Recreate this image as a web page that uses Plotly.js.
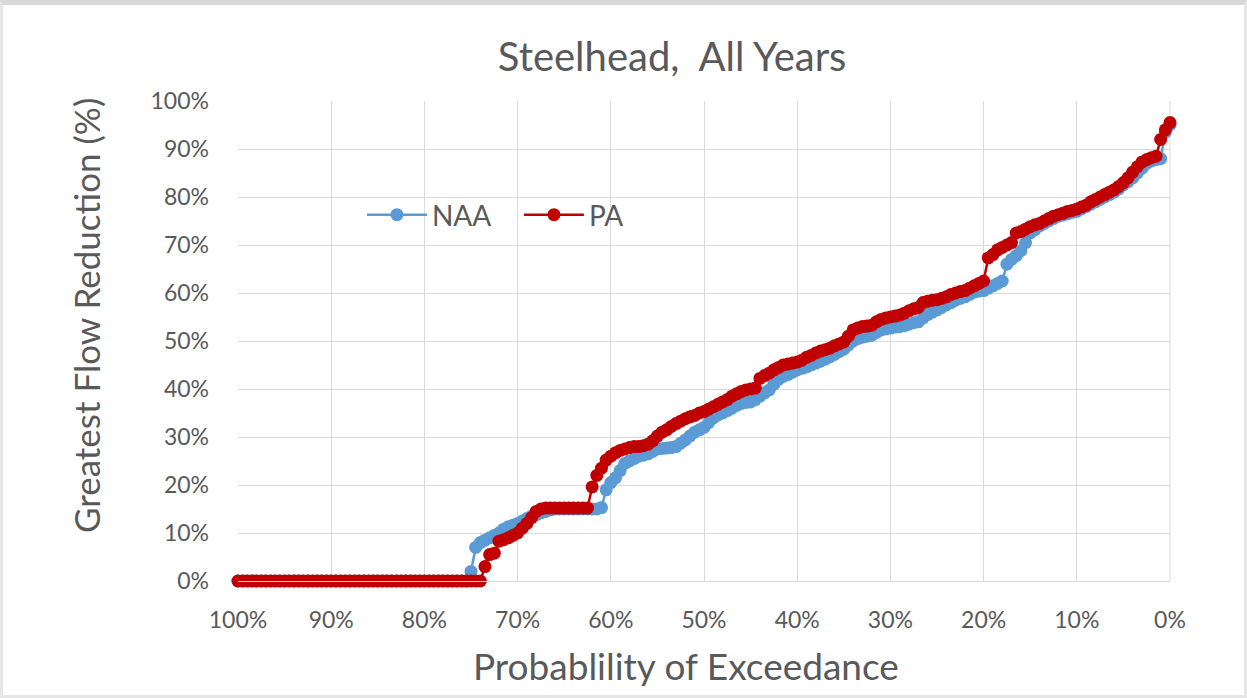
<!DOCTYPE html>
<html>
<head>
<meta charset="utf-8">
<script src="https://cdn.plot.ly/plotly-3.0.1.min.js"></script>
<style>
  html, body { margin: 0; padding: 0; background: #ffffff; }
  #frame { position: absolute; left: 0; top: 0; width: 1247px; height: 698px; box-sizing: border-box;
           border-top: 5px solid #d9d9d9; border-left: 3px solid #e6e6e6; border-right: 3px solid #e6e6e6; border-bottom: 3px solid #e6e6e6; }
  #chart { position: absolute; left: 0; top: 0; width: 1247px; height: 698px; }
</style>
</head>
<body>
<div id="frame"></div>
<div id="chart"></div>
<script>
// Probability of exceedance (%)
const exceedance = [
  100,99.5,99,98.5,98,97.5,97,96.5,96,95.5,
  95,94.5,94,93.5,93,92.5,92,91.5,91,90.5,
  90,89.5,89,88.5,88,87.5,87,86.5,86,85.5,
  85,84.5,84,83.5,83,82.5,82,81.5,81,80.5,
  80,79.5,79,78.5,78,77.5,77,76.5,76,75.5,
  75,74.5,74,73.5,73,72.5,72,71.5,71,70.5,
  70,69.5,69,68.5,68,67.5,67,66.5,66,65.5,
  65,64.5,64,63.5,63,62.5,62,61.5,61,60.5,
  60,59.5,59,58.5,58,57.5,57,56.5,56,55.5,
  55,54.5,54,53.5,53,52.5,52,51.5,51,50.5,
  50,49.5,49,48.5,48,47.5,47,46.5,46,45.5,
  45,44.5,44,43.5,43,42.5,42,41.5,41,40.5,
  40,39.5,39,38.5,38,37.5,37,36.5,36,35.5,
  35,34.5,34,33.5,33,32.5,32,31.5,31,30.5,
  30,29.5,29,28.5,28,27.5,27,26.5,26,25.5,
  25,24.5,24,23.5,23,22.5,22,21.5,21,20.5,
  20,19.5,19,18.5,18,17.5,17,16.5,16,15.5,
  15,14.5,14,13.5,13,12.5,12,11.5,11,10.5,
  10,9.5,9,8.5,8,7.5,7,6.5,6,5.5,
  5,4.5,4,3.5,3,2.5,2,1.5,1,0.5,
  0];

// Greatest flow reduction (%), NAA
const naa = [
  0,0,0,0,0,0,0,0,0,0,
  0,0,0,0,0,0,0,0,0,0,
  0,0,0,0,0,0,0,0,0,0,
  0,0,0,0,0,0,0,0,0,0,
  0,0,0,0,0,0,0,0,0,0,
  2,7,8,8.5,9,9.5,10,10.8,11.3,11.6,
  12,12.5,13,13.5,13.8,14.2,14.5,14.8,15,15,
  15,15,15,15,15,15,15,15,15.3,19,
  20.5,21.5,23,24.5,25,25.5,26,26.2,26.5,27,
  27.5,27.6,27.7,27.8,28,28.7,29.4,30.2,31,31.5,
  32,33,34,34.6,35,35.5,36,36.6,37,37.2,
  37.3,37.8,38.5,39.2,39.8,41,42,42.6,43,43.5,
  44,44.3,44.6,45,45.4,45.8,46.2,46.7,47.2,47.8,
  48.3,49.2,50,50.5,50.8,51,51.2,51.8,52.3,52.5,
  52.7,52.9,53,53.2,53.5,53.8,54,54.8,55.5,56,
  56.5,57,57.5,58,58.5,58.9,59.2,59.7,60.2,60.4,
  60.5,61,61.5,62,62.5,66,67,67.8,68.8,70.5,
  72.5,73.2,74,74.5,75,75.5,76,76.2,76.5,76.8,
  77,77.5,78,78.5,79,79.5,80,80.5,81,81.7,
  82.5,83.2,84,85,86,87,87.5,87.8,88,93.5,
  95];

// Greatest flow reduction (%), PA
const pa = [
  0,0,0,0,0,0,0,0,0,0,
  0,0,0,0,0,0,0,0,0,0,
  0,0,0,0,0,0,0,0,0,0,
  0,0,0,0,0,0,0,0,0,0,
  0,0,0,0,0,0,0,0,0,0,
  0,0,0,3,5.5,5.8,8.3,8.6,9,9.5,
  10,11,12,13.2,14.5,15,15.2,15.2,15.2,15.2,
  15.2,15.2,15.2,15.2,15.2,15.2,19.6,22,23.5,25.2,
  26,26.7,27.2,27.5,27.8,28,28,28.2,28.5,29.2,
  30.2,31,31.5,32.2,32.8,33.3,33.8,34.2,34.5,35,
  35.3,35.8,36.3,36.8,37.3,37.8,38.5,39,39.5,39.8,
  40,40.2,42.2,42.8,43.3,44,44.5,45,45.2,45.4,
  45.6,46,46.6,47,47.5,47.9,48.2,48.5,49,49.4,
  49.8,51,52.3,52.7,53,53.1,53.3,54,54.5,54.8,
  55,55.2,55.4,55.8,56.3,56.7,57,58,58.3,58.5,
  58.6,58.9,59.2,59.7,60,60.3,60.5,61,61.5,62,
  62.5,67.3,68,69,69.5,70,70.5,72.5,72.8,73.3,
  73.8,74.2,74.5,75,75.5,76,76.3,76.6,77,77.2,
  77.5,77.9,78.3,79,79.5,80,80.5,81,81.5,82.2,
  83,84,85.2,86.3,87.3,87.8,88.2,88.5,92,94,
  95.5];

const tickVals = [0,10,20,30,40,50,60,70,80,90,100];
const tickText = ['0%','10%','20%','30%','40%','50%','60%','70%','80%','90%','100%'];

const FONT = 'Lato, "Open Sans", sans-serif';
const GREY = '#595959';

const traces = [
  { x: exceedance, y: naa, name: 'NAA', type: 'scatter', mode: 'lines+markers', cliponaxis: false,
    line: { color: '#5B9BD5', width: 2.5 }, marker: { color: '#5B9BD5', size: 13 } },
  { x: exceedance, y: pa, name: 'PA', type: 'scatter', mode: 'lines+markers', cliponaxis: false,
    line: { color: '#C00000', width: 2.5 }, marker: { color: '#C00000', size: 13 } }
];

const layout = {
  width: 1247, height: 698,
  paper_bgcolor: 'rgba(0,0,0,0)', plot_bgcolor: '#ffffff',
  margin: { l: 238, r: 77, t: 101, b: 117 },
  font: { family: FONT, color: GREY },
  title: { text: 'Steelhead,  All Years', x: 0.539, xanchor: 'center', y: 0.918, yanchor: 'middle',
           font: { family: FONT, size: 40, color: GREY } },
  xaxis: {
    range: [100, 0], tickvals: tickVals, ticktext: tickText,
    showgrid: true, gridcolor: '#d9d9d9', gridwidth: 1,
    zeroline: false, showline: true, linecolor: '#d9d9d9', linewidth: 1,
    ticks: '', ticklabelstandoff: 18,
    tickfont: { family: FONT, size: 23, color: GREY }
  },
  yaxis: {
    range: [0, 100], tickvals: tickVals, ticktext: tickText,
    showgrid: true, gridcolor: '#d9d9d9', gridwidth: 1,
    zeroline: false, showline: false,
    ticks: '', ticklabelstandoff: 28,
    tickfont: { family: FONT, size: 23, color: GREY }
  },
  annotations: [
    { text: 'Probablility of Exceedance', xref: 'paper', yref: 'paper', x: 0.4807, y: -0.175,
      xanchor: 'center', yanchor: 'middle', showarrow: false, font: { family: FONT, size: 37, color: GREY } },
    { text: 'Greatest Flow Reduction (%)', xref: 'paper', yref: 'paper', x: -0.163, y: 0.552, textangle: -90,
      xanchor: 'center', yanchor: 'middle', showarrow: false, font: { family: FONT, size: 35, color: GREY } }
  ],
  shapes: [
    { type: 'line', xref: 'paper', yref: 'paper', x0: 1, x1: 1, y0: 0, y1: 1, line: { color: '#d9d9d9', width: 1 }, layer: 'below' }
  ],
  showlegend: true,
  legend: { orientation: 'h', x: 0.133, xanchor: 'left', y: 0.7625, yanchor: 'middle',
            bgcolor: 'rgba(255,255,255,0)', itemwidth: 60, entrywidth: 82, tracegroupgap: 0,
            font: { family: FONT, size: 28, color: GREY } }
};

Plotly.newPlot('chart', traces, layout, { displayModeBar: false, staticPlot: true });
</script>
</body>
</html>
